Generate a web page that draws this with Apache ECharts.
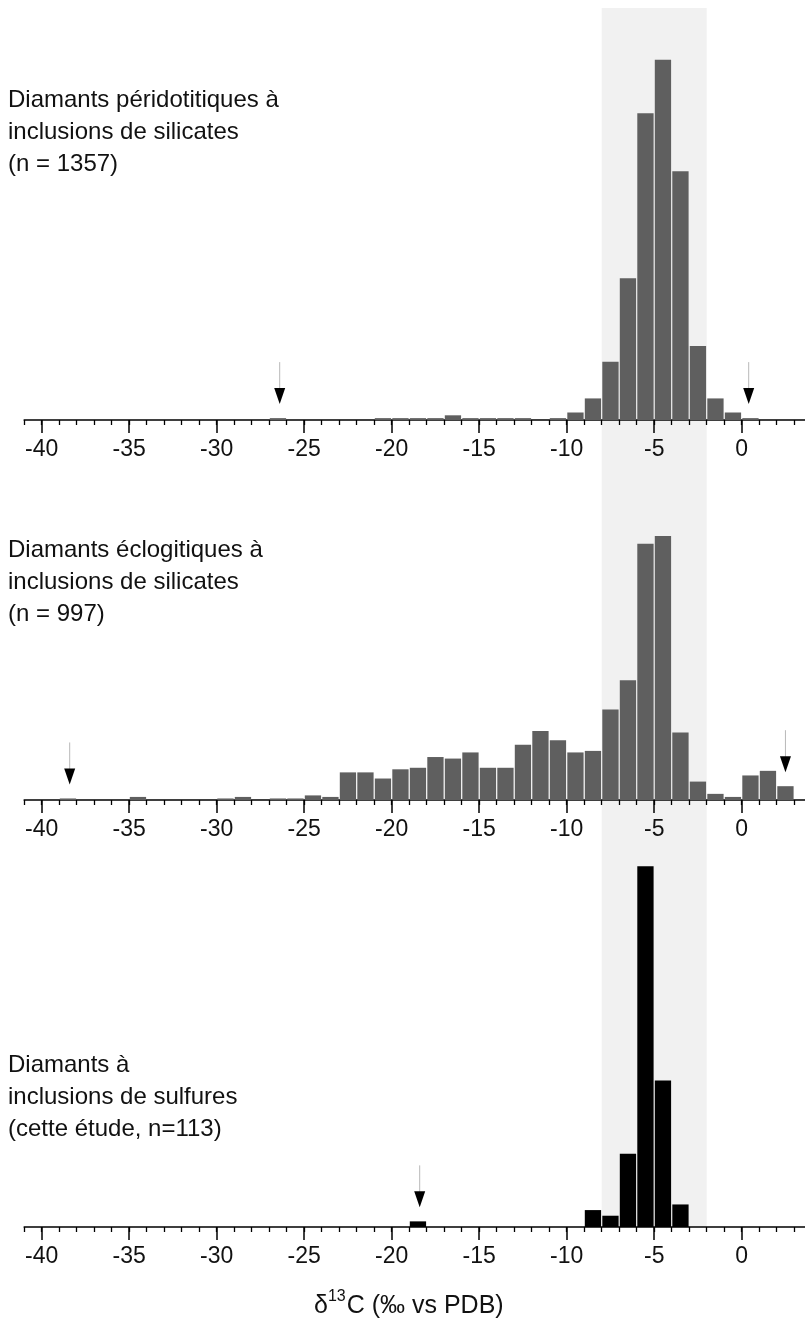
<!DOCTYPE html>
<html>
<head>
<meta charset="utf-8">
<script src="https://cdn.jsdelivr.net/npm/echarts@6/dist/echarts.min.js"></script>
<style>
html, body { margin: 0; padding: 0; background: #fff; }
#main { width: 805px; height: 1336px; }
</style>
</head>
<body>
<div id="main"></div>
<script>
// histogrammes δ13C, classes de 1 ‰ (valeur = borne gauche de la classe)
const binsPerido = [-27, -21, -20, -19, -18, -17, -16, -15, -14, -13, -11, -10, -9, -8, -7, -6, -5, -4, -3, -2, -1, 0];
const countsPerido = [2, 2, 2, 2, 2, 5, 2, 2, 2, 2, 2, 8, 23, 62, 151, 327, 384, 265, 79, 23, 8, 2];

const binsEclo = [-39, -35, -30, -29, -27, -26, -25, -24, -23, -22, -21, -20, -19, -18, -17, -16, -15, -14,
  -13, -12, -11, -10, -9, -8, -7, -6, -5, -4, -3, -2, -1, 0, 1, 2];
const countsEclo = [1, 2, 1, 2, 1, 1, 3, 2, 18, 18, 14, 20, 21, 28, 27, 31, 21, 21,
  36, 45, 39, 31, 32, 59, 78, 167, 172, 44, 12, 4, 2, 16, 19, 9];

const binsSulf = [-19, -9, -8, -7, -6, -5, -4];
const countsSulf = [1, 3, 2, 13, 64, 26, 4];

// valeurs extrêmes (flèches)
const arrowsPerido = [-26.4, 0.4];
const arrowsEclo = [-38.4, 2.5];
const arrowsSulf = [-18.4];

// domaine du manteau
const mantleRange = [-8, -2];

const labelsPerido = ['Diamants péridotitiques à', 'inclusions de silicates', '(n = 1357)'];
const labelsEclo = ['Diamants éclogitiques à', 'inclusions de silicates', '(n = 997)'];
const labelsSulf = ['Diamants à', 'inclusions de sulfures', '(cette étude, n=113)'];

const FONT = '"Liberation Sans", Arial, Helvetica, sans-serif';
const binWidth = 1;

const myChart = echarts.init(document.getElementById('main'), null, { renderer: 'canvas' });

function barItem(color) {
  return function (params, api) {
    const x0 = api.value(0);
    const v = api.value(1);
    const p0 = api.coord([x0, v]);
    const p1 = api.coord([x0 + binWidth, 0]);
    return {
      type: 'rect',
      shape: { x: p0[0] + 0.6, y: p0[1], width: p1[0] - p0[0] - 1.2, height: Math.max(p1[1] - p0[1], 1.2) },
      style: { fill: color }
    };
  };
}

function arrowItem(bins, counts) {
  return function (params, api) {
    const x = api.value(0);
    const i = bins.indexOf(Math.floor(x));
    const c = i >= 0 ? counts[i] : 0;
    const p = api.coord([x, c]);
    const tip = p[1] - 14;
    return {
      type: 'group',
      children: [
        { type: 'line', shape: { x1: p[0], y1: tip - 42, x2: p[0], y2: tip - 15 }, style: { stroke: '#b8b8b8', lineWidth: 1 } },
        { type: 'polygon', shape: { points: [[p[0] - 5.5, tip - 16], [p[0] + 5.5, tip - 16], [p[0], tip]] }, style: { fill: '#000' } }
      ]
    };
  };
}

// position verticale des axes de chaque panneau
const panels = [
  { axisY: 420, top: 40, yMax: 405, bins: binsPerido, counts: countsPerido, arrows: arrowsPerido, color: '#5f5f5f' },
  { axisY: 800, top: 500, yMax: 195.5, bins: binsEclo, counts: countsEclo, arrows: arrowsEclo, color: '#5f5f5f' },
  { axisY: 1227, top: 847, yMax: 67.4, bins: binsSulf, counts: countsSulf, arrows: arrowsSulf, color: '#000' }
];

const grid = [{ left: -45.8, right: -24.2, top: 8, height: 1219, outerBoundsMode: 'none' }];
const xAxis = [{ gridIndex: 0, type: 'value', min: -45, max: 5, show: false }];
const yAxis = [{ gridIndex: 0, type: 'value', min: 0, max: 1, show: false }];
const series = [{
  type: 'custom',
  xAxisIndex: 0,
  yAxisIndex: 0,
  z: -5,
  silent: true,
  data: [[mantleRange[0], mantleRange[1]]],
  encode: { x: [0, 1] },
  renderItem: function (params, api) {
    const a = api.coord([api.value(0), 1]);
    const b = api.coord([api.value(1), 0]);
    return { type: 'rect', shape: { x: a[0], y: a[1], width: b[0] - a[0], height: b[1] - a[1] }, style: { fill: '#f1f1f1' } };
  }
}];

panels.forEach((p) => {
  const ga = grid.length;
  grid.push({ left: 24.2, right: -24.2, top: p.axisY - 10, height: 10, outerBoundsMode: 'none' });
  xAxis.push({
    gridIndex: ga, type: 'value', min: -41, max: 5, interval: 1,
    axisLine: { show: true, onZero: false, lineStyle: { color: '#000', width: 1.6 } },
    axisTick: { show: true, length: 5, lineStyle: { color: '#000', width: 1.3 } },
    axisLabel: { show: false }, splitLine: { show: false }
  });
  yAxis.push({ gridIndex: ga, type: 'value', min: 0, max: 1, show: false });

  const gb = grid.length;
  grid.push({ left: -45.8, right: -24.2, top: p.top, height: p.axisY - p.top, outerBoundsMode: 'none' });
  xAxis.push({
    gridIndex: gb, type: 'value', min: -45, max: 5, interval: 5,
    axisLine: { show: false },
    axisTick: { show: true, length: 13, lineStyle: { color: '#000', width: 1.5 } },
    axisLabel: { color: '#111', fontSize: 23, fontFamily: FONT, margin: 18 },
    splitLine: { show: false }
  });
  yAxis.push({ gridIndex: gb, type: 'value', min: 0, max: p.yMax, show: false });

  series.push({
    type: 'custom', xAxisIndex: gb, yAxisIndex: gb, silent: true,
    data: p.bins.map((b, i) => [b, p.counts[i]]),
    encode: { x: 0, y: 1 },
    renderItem: barItem(p.color)
  });
  series.push({
    type: 'custom', xAxisIndex: gb, yAxisIndex: gb, silent: true, z: 3,
    data: p.arrows.map((x) => [x, 0]),
    encode: { x: 0, y: 1 },
    renderItem: arrowItem(p.bins, p.counts)
  });
});

const textTops = [84, 534, 1049];
const graphic = [labelsPerido, labelsEclo, labelsSulf].map((lines, k) => ({
  type: 'text',
  left: 8,
  top: textTops[k],
  style: { text: lines.join('\n'), font: '24px ' + FONT, lineHeight: 32, fill: '#111' }
}));
graphic.push({
  type: 'text',
  left: 314,
  top: 1289,
  style: {
    text: '{n|δ}{s|13}{n|C (‰ vs PDB)}',
    font: '25px ' + FONT,
    fill: '#111',
    rich: {
      n: { fontSize: 25, fontFamily: FONT, lineHeight: 30, verticalAlign: 'bottom' },
      s: { fontSize: 16, fontFamily: FONT, lineHeight: 30, verticalAlign: 'top', padding: [0, 1, 12, 0] }
    }
  }
});

myChart.setOption({
  animation: false,
  backgroundColor: '#fff',
  grid: grid,
  xAxis: xAxis,
  yAxis: yAxis,
  series: series,
  graphic: graphic
});
</script>
</body>
</html>
